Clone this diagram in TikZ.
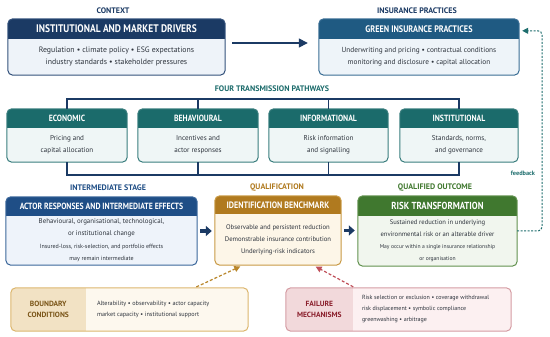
\documentclass[tikz,border=0pt]{standalone}
\usepackage{fontspec}
\setmainfont{PT Sans}
\newfontfamily\condfont{PT Sans}[FakeStretch=0.86]
\usetikzlibrary{arrows.meta,calc}

\definecolor{navyhead}{HTML}{1B3A64}\definecolor{navybody}{HTML}{EEF3F9}\definecolor{navyline}{HTML}{34527C}
\definecolor{inshead}{HTML}{1F5A82}\definecolor{insbody}{HTML}{EEF4F9}\definecolor{insline}{HTML}{3A6E95}
\definecolor{tealhead}{HTML}{1B6B6B}\definecolor{tealbody}{HTML}{EFF6F6}\definecolor{tealline}{HTML}{3A7E7E}
\definecolor{acthead}{HTML}{1F4E86}\definecolor{actbody}{HTML}{EEF3FA}\definecolor{actline}{HTML}{3B679B}
\definecolor{goldhead}{HTML}{B07A1F}\definecolor{goldbody}{HTML}{FDF6E8}\definecolor{goldline}{HTML}{C99A45}
\definecolor{grnhead}{HTML}{40782F}\definecolor{grnbody}{HTML}{F1F6EE}\definecolor{grnline}{HTML}{62924F}
\definecolor{bndline}{HTML}{DCB66E}\definecolor{bndleft}{HTML}{F2E2C4}\definecolor{bndright}{HTML}{FDF8EE}\definecolor{bndtext}{HTML}{7A5518}
\definecolor{failline}{HTML}{D59CA3}\definecolor{failleft}{HTML}{F2D9DB}\definecolor{failright}{HTML}{FCF0F1}\definecolor{failtext}{HTML}{8A1E2B}
\definecolor{bodytext}{HTML}{2E343D}
\definecolor{navylab}{HTML}{1B3A64}
\definecolor{fbteal}{HTML}{1E6E6E}
\definecolor{golddash}{HTML}{B9862A}
\definecolor{reddash}{HTML}{C0505A}

\newcommand{\fs}[2]{\fontsize{#1}{#2}\selectfont}

\tikzset{
  headtxt/.style={text=white, inner sep=0pt, font=\condfont\bfseries\fs{9}{10}},
  bodytxt/.style={text=bodytext, inner sep=0pt, align=center, font=\fs{7.8}{12}},
  seclab/.style={inner sep=0pt, font=\bfseries\fs{8}{9}},
  bracket/.style={draw=navyhead, line width=1.2pt},
  blockarrow/.style={draw=navyhead, line width=3.5pt, -{Triangle[length=6pt,width=10pt]}, shorten <=3pt, shorten >=3pt},
  fbarrow/.style={draw=fbteal, line width=1pt, dash pattern=on 2pt off 1.5pt, rounded corners=4pt, -{Triangle[length=6pt,width=6pt]}},
  golddashed/.style={draw=golddash, line width=1.2pt, dash pattern=on 3pt off 2pt, -{Triangle[length=6pt,width=6pt]}},
  reddashed/.style={draw=reddash, line width=1.2pt, dash pattern=on 3pt off 2pt, -{Triangle[length=6pt,width=6pt]}},
}

\newcommand{\panel}[9]{%
  \node[fill=#2body, rounded corners=5pt, minimum width={#5-#3}, minimum height={#6-#4}, inner sep=0pt] (#1) at ({(#3+#5)/2},{(#4+#6)/2}) {};
  \begin{scope}
    \clip[rounded corners=5pt] (#1.north west) rectangle (#1.south east);
    \fill[#2head] (#1.north west) rectangle ([yshift=-#7pt]#1.north east);
  \end{scope}
  \draw[#2line, line width=1pt, rounded corners=5pt] (#1.north west) rectangle (#1.south east);
  \node[headtxt] (#1-title) at ([yshift=-#7pt/2]#1.north) {#8};
  \node[bodytxt] (#1-text) at ($(#1.south)!0.5!([yshift=-#7pt]#1.north)$) {#9};
}

\begin{document}
\begin{tikzpicture}[x=1pt,y=-1pt]
\useasboundingbox[fill=white] (0,0) rectangle (550,337);

% section labels
\node[seclab, text=navylab] (lab-context) at (113,11) {CONTEXT};
\node[seclab, text=navylab] (lab-ins) at (417,11) {INSURANCE PRACTICES};
\node[seclab, text=tealhead] (lab-four) at (272,89) {FOUR TRANSMISSION PATHWAYS};
\node[seclab, text=acthead] (lab-inter) at (108,188) {INTERMEDIATE STAGE};
\node[seclab, text=goldhead] (lab-qual) at (277,188) {QUALIFICATION};
\node[seclab, text=grnhead] (lab-out) at (435,188) {QUALIFIED OUTCOME};

% top row
\panel{drivers}{navy}{8}{19}{225}{75}{20}{\fs{11}{12}INSTITUTIONAL AND MARKET DRIVERS}{Regulation • climate policy • ESG expectations\\industry standards • stakeholder pressures}
\panel{green}{ins}{319}{19}{519}{75}{20}{\fs{9.5}{11}GREEN INSURANCE PRACTICES}{\fs{7.3}{12}Underwriting and pricing • contractual conditions\\\fs{7.3}{12}monitoring and disclosure • capital allocation}

% pathways
\panel{eco}{teal}{7}{109}{127}{162}{19}{ECONOMIC}{\fs{7.1}{12}Pricing and\\\fs{7.1}{12}capital allocation}
\panel{beh}{teal}{138}{109}{258}{162}{19}{BEHAVIOURAL}{\fs{7.1}{12}Incentives and\\\fs{7.1}{12}actor responses}
\panel{info}{teal}{269}{109}{388}{162}{19}{INFORMATIONAL}{\fs{7.1}{12}Risk information\\\fs{7.1}{12}and signalling}
\panel{inst}{teal}{400}{109}{518}{162}{19}{INSTITUTIONAL}{\fs{7.1}{12}Standards, norms,\\\fs{7.1}{12}and governance}

% brackets
\coordinate (tb) at (0,99);
\coordinate (bb) at (0,175);
\draw[bracket] (eco.north) -- (eco.north |- tb) -- (inst.north |- tb) -- (inst.north);
\draw[bracket] (beh.north) -- (beh.north |- tb);
\draw[bracket] (info.north) -- (info.north |- tb);
\draw[bracket] (eco.south) -- (eco.south |- bb) -- (inst.south |- bb) -- (inst.south);
\draw[bracket] (beh.south) -- (beh.south |- bb);
\draw[bracket] (info.south) -- (info.south |- bb);

% middle row
\panel{actor}{act}{6}{197}{197}{265}{19}{\fs{9}{10}ACTOR RESPONSES AND INTERMEDIATE EFFECTS}{\fs{6.9}{10}Behavioural, organisational, technological,\\\fs{6.9}{10}or institutional change\\[1pt]\fs{6}{10}Insured-loss, risk-selection, and portfolio effects\\\fs{6}{10}may remain intermediate}
\panel{ident}{gold}{215}{196}{341}{265}{18}{\fs{9.3}{10}IDENTIFICATION BENCHMARK}{\fs{6.7}{11.5}Observable and persistent reduction\\\fs{6.7}{11.5}Demonstrable insurance contribution\\\fs{6.7}{11.5}Underlying-risk indicators}
\panel{risk}{grn}{358}{196}{517}{266}{20}{\fs{10.2}{11}RISK TRANSFORMATION}{\fs{6.6}{11}Sustained reduction in underlying\\\fs{6.6}{11}environmental risk or an alterable driver\\\fs{5.6}{10}May occur within a single insurance relationship\\\fs{5.6}{10}or organisation}

% arrows
\draw[navyhead, line width=1.5pt, -{Triangle[length=9pt,width=9pt]}, shorten <=7pt, shorten >=11pt] ([yshift=4pt]drivers.east) -- ([yshift=4pt]green.west);
\draw[blockarrow] (actor.east) -- (actor.east -| ident.west);
\draw[blockarrow] (ident.east) -- (ident.east -| risk.west);

% feedback
\coordinate (fbx) at (542,0);
\coordinate (fbtop) at ([yshift=-12pt,xshift=3pt]green.north east);
\draw[fbarrow] (risk.east) -- (risk.east -| fbx) -- (fbtop -| fbx) -- (fbtop);
\node[inner sep=0pt, text=fbteal, font=\bfseries\fs{6.3}{7}] (fb-label) at (523,173) {feedback};

% boundary conditions
\node[fill=bndright, rounded corners=5pt, minimum width=237, minimum height=43, inner sep=0pt] (bound) at (129.5,309.5) {};
\begin{scope}
  \clip[rounded corners=5pt] (bound.north west) rectangle (bound.south east);
  \fill[bndleft] (bound.north west) rectangle ([xshift=75pt]bound.south west);
\end{scope}
\draw[bndline, line width=1pt, rounded corners=5pt] (bound.north west) rectangle (bound.south east);
\node[inner sep=0pt, align=center, text=bndtext, font=\bfseries\fs{7.5}{11}] (bound-label) at ([xshift=37.5pt]bound.west) {BOUNDARY\\CONDITIONS};
\node[inner sep=0pt, anchor=west, align=left, text=bodytext, font=\fs{6.2}{11.5}] (bound-text) at ([xshift=86pt]bound.west) {Alterability • observability • actor capacity\\market capacity • institutional support};

% failure mechanisms
\node[fill=failright, rounded corners=5pt, minimum width=225, minimum height=43, inner sep=0pt] (fail) at (398.5,309.5) {};
\begin{scope}
  \clip[rounded corners=5pt] (fail.north west) rectangle (fail.south east);
  \fill[failleft] (fail.north west) rectangle ([xshift=67pt]fail.south west);
\end{scope}
\draw[failline, line width=1pt, rounded corners=5pt] (fail.north west) rectangle (fail.south east);
\node[inner sep=0pt, align=center, text=failtext, font=\bfseries\fs{7.5}{11}] (fail-label) at ([xshift=33.5pt]fail.west) {FAILURE\\MECHANISMS};
\node[inner sep=0pt, anchor=west, align=left, text=bodytext, font=\fs{6}{11}] (fail-text) at ([xshift=76pt]fail.west) {Risk selection or exclusion • coverage withdrawal\\risk displacement • symbolic compliance\\greenwashing • arbitrage};

% dashed influence arrows
\draw[golddashed, shorten <=2pt, shorten >=3pt] ([xshift=65pt]bound.north) -- ([xshift=-35pt]ident.south);
\draw[reddashed, shorten <=2pt, shorten >=3pt] ([xshift=-43.5pt]fail.north) -- ([xshift=35pt]ident.south);
\end{tikzpicture}
\end{document}
